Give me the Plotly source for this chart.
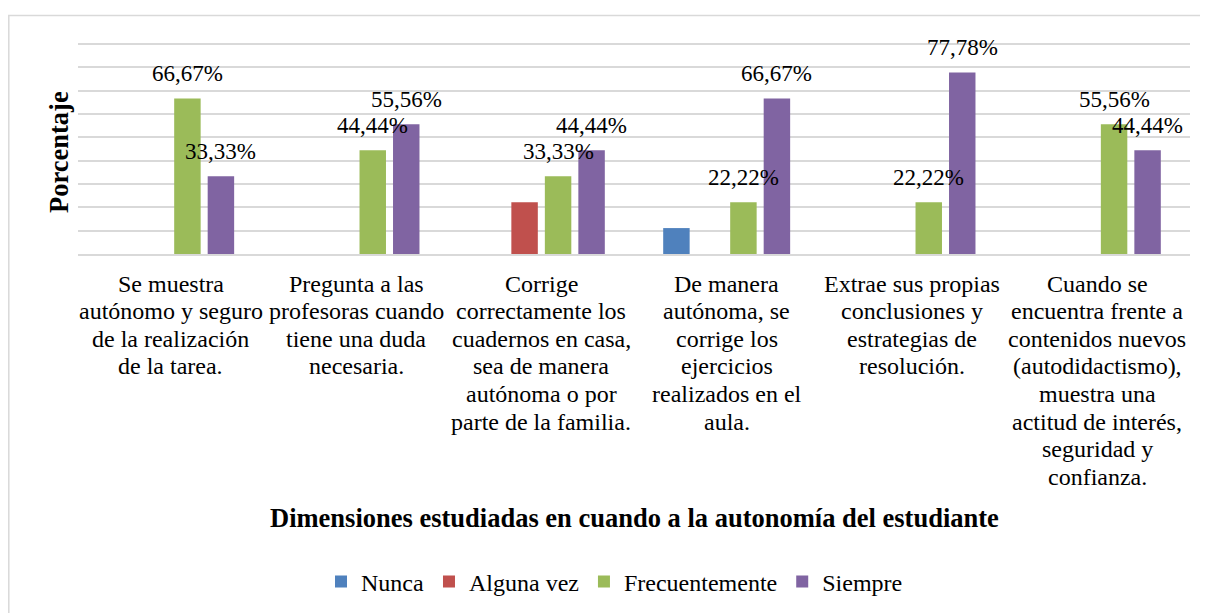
import plotly.graph_objects as go

# ---------------- data ----------------
categories = [
    "Se muestra autónomo y seguro de la realización de la tarea.",
    "Pregunta a las profesoras cuando tiene una duda necesaria.",
    "Corrige correctamente los cuadernos en casa, sea de manera autónoma o por parte de la familia.",
    "De manera autónoma, se corrige los ejercicios realizados en el aula.",
    "Extrae sus propias conclusiones y estrategias de resolución.",
    "Cuando se encuentra frente a contenidos nuevos (autodidactismo), muestra una actitud de interés, seguridad y confianza.",
]
category_lines = [
    ["Se muestra", "autónomo y seguro", "de la realización", "de la tarea."],
    ["Pregunta a las", "profesoras cuando", "tiene una duda", "necesaria."],
    ["Corrige", "correctamente los", "cuadernos en casa,", "sea de manera", "autónoma o por", "parte de la familia."],
    ["De manera", "autónoma, se", "corrige los", "ejercicios", "realizados en el", "aula."],
    ["Extrae sus propias", "conclusiones y", "estrategias de", "resolución."],
    ["Cuando se", "encuentra frente a", "contenidos nuevos", "(autodidactismo),", "muestra una", "actitud de interés,", "seguridad y", "confianza."],
]
series_names = ["Nunca", "Alguna vez", "Frecuentemente", "Siempre"]
nunca = [0, 0, 0, 11.11, 0, 0]
alguna_vez = [0, 0, 22.22, 0, 0, 0]
frecuentemente = [66.67, 44.44, 33.33, 22.22, 22.22, 55.56]
siempre = [33.33, 55.56, 44.44, 66.67, 77.78, 44.44]
series_values = [nunca, alguna_vez, frecuentemente, siempre]
series_colors = ["#4F81BD", "#C0504D", "#9BBB59", "#8064A2"]
labelled_series = [False, False, True, True]

y_title = "Porcentaje"
x_title = "Dimensiones estudiadas en cuando a la autonomía del estudiante"

# ---------------- layout constants ----------------
# the page body adds an 8px margin, so the figure is 8px smaller than the window
W, H = 1200, 605
ML, MR, MT, MB = 70, 18, 34, 359
PW, PH = W - ML - MR, H - MT - MB
PX_PER_PCT = 210 / 90
YMAX = PH / PX_PER_PCT
BARGAP = 0.277
BARGROUPGAP = 0.21
FONT = "Liberation Serif"


def px_to_paper_x(px):
    return (px - ML) / PW


def px_to_paper_y(py):
    return (H - MB - py) / PH


fig = go.Figure()
x_idx = list(range(len(categories)))
for name, vals, col in zip(series_names, series_values, series_colors):
    fig.add_trace(go.Bar(
        name=name, x=x_idx, y=vals,
        marker=dict(color=col, line=dict(width=0)),
    ))

annotations = []
# data labels
slot = (1 - BARGAP) / len(series_names)
for k, (vals, show) in enumerate(zip(series_values, labelled_series)):
    if not show:
        continue
    off = (k - (len(series_names) - 1) / 2) * slot
    for i, v in enumerate(vals):
        annotations.append(dict(
            x=i + off, y=v, xref="x", yref="y",
            text=f"{v:.2f}".replace(".", ",") + "%",
            showarrow=False, yanchor="middle", xanchor="center", yshift=25,
            font=dict(family=FONT, size=23, color="black"),
        ))

# category labels (one annotation per line to reproduce the tight line spacing)
for i, lines in enumerate(category_lines):
    for j, line in enumerate(lines):
        annotations.append(dict(
            x=i, y=0, xref="x", yref="y", text=line, showarrow=False,
            xanchor="center", yanchor="middle", yshift=-(29.5 + 27.6 * j),
            font=dict(family=FONT, size=24, color="black"),
        ))

# axis titles
annotations.append(dict(
    x=0.5, y=0, xref="paper", yref="paper", text="<b>" + x_title + "</b>",
    showarrow=False, xanchor="center", yanchor="middle", yshift=-(510 - (H - MB)),
    font=dict(family=FONT, size=26.5, color="black"),
))
annotations.append(dict(
    x=0, y=px_to_paper_y(144), xref="paper", yref="paper", text="<b>" + y_title + "</b>",
    showarrow=False, xanchor="center", yanchor="middle", xshift=51 - ML,
    textangle=-90, font=dict(family=FONT, size=26.5, color="black"),
))

fig.update_layout(
    width=W, height=H,
    margin=dict(l=ML, r=MR, t=MT, b=MB, autoexpand=False),
    paper_bgcolor="white", plot_bgcolor="white",
    barmode="group", bargap=BARGAP, bargroupgap=BARGROUPGAP,
    font=dict(family=FONT, size=24, color="black"),
    showlegend=True,
    legend=dict(
        orientation="h", x=px_to_paper_x(313), xanchor="left",
        y=px_to_paper_y(574), yanchor="middle",
        font=dict(family=FONT, size=24, color="black"),
        bgcolor="rgba(0,0,0,0)",
    ),
    xaxis=dict(
        type="linear", range=[-0.5, len(categories) - 0.5],
        showticklabels=False, showgrid=False, zeroline=False,
        showline=True, linecolor="#D9D9D9", linewidth=1.5, ticks="",
    ),
    yaxis=dict(
        range=[0, YMAX], tick0=0, dtick=10, showticklabels=False, ticks="",
        showgrid=True, gridcolor="#D9D9D9", gridwidth=1.5,
        zeroline=False, showline=False,
    ),
    annotations=annotations,
    shapes=[dict(
        type="rect", xref="paper", yref="paper", layer="below",
        x0=px_to_paper_x(0.8), x1=px_to_paper_x(W + 10),
        y0=px_to_paper_y(H + 10), y1=px_to_paper_y(7.5),
        line=dict(color="#D9D9D9", width=1.5), fillcolor="rgba(0,0,0,0)",
    )],
)

fig.write_html("out.html")
